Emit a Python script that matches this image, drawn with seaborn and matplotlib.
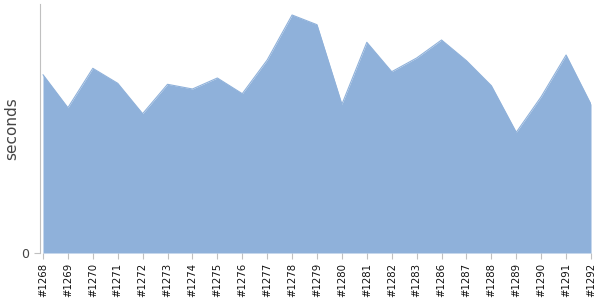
import matplotlib
matplotlib.use("Agg")
import matplotlib.pyplot as plt
import seaborn as sns
import pandas as pd

builds = ["#1268", "#1269", "#1270", "#1271", "#1272", "#1273", "#1274", "#1275",
          "#1276", "#1277", "#1278", "#1279", "#1280", "#1281", "#1282", "#1283",
          "#1286", "#1287", "#1288", "#1289", "#1290", "#1291", "#1292"]
seconds = [178.3, 145.3, 184.7, 169.7, 139.3, 168.7, 164.0, 175.0, 159.3, 193.0,
           238.0, 228.3, 148.7, 210.7, 181.3, 195.0, 213.0, 192.3, 167.3, 120.7,
           156.3, 198.0, 148.7]

df = pd.DataFrame({"build": builds, "seconds": seconds})
df["pos"] = range(len(df))

sns.set_style("white")
fig = plt.figure(figsize=(6, 3), dpi=100)
ax = fig.add_axes([40/600, 1 - 253/300, (591 - 40)/600, (253 - 4)/300])

fill = "#8fb1da"
sns.lineplot(data=df, x="pos", y="seconds", ax=ax, color=fill, linewidth=0.8)
ax.fill_between(df["pos"], df["seconds"], 0, color=fill, linewidth=0)

ax.set_xlim(-0.12, len(df) - 1)
ax.set_ylim(0, 249)
ax.set_xticks(df["pos"])
ax.set_xticklabels(df["build"], rotation=90, fontsize=7.3, color="#111111")
ax.set_yticks([0])
ax.set_yticklabels(["0"], fontsize=9, color="#444444")
ax.set_xlabel("")
ax.set_ylabel("seconds", fontsize=11, color="#444444")
ax.yaxis.set_label_coords(-21 / 551, 0.5)

for s in ["top", "right", "bottom"]:
    ax.spines[s].set_visible(False)
ax.spines["left"].set_color("#c0c0c0")
ax.tick_params(axis="x", length=4, width=0.8, color="#c0c0c0", pad=3, direction="out", bottom=True)
ax.tick_params(axis="y", length=4, width=0.8, color="#c0c0c0", pad=4, direction="out", left=True)

fig.savefig("out.png", dpi=100)
